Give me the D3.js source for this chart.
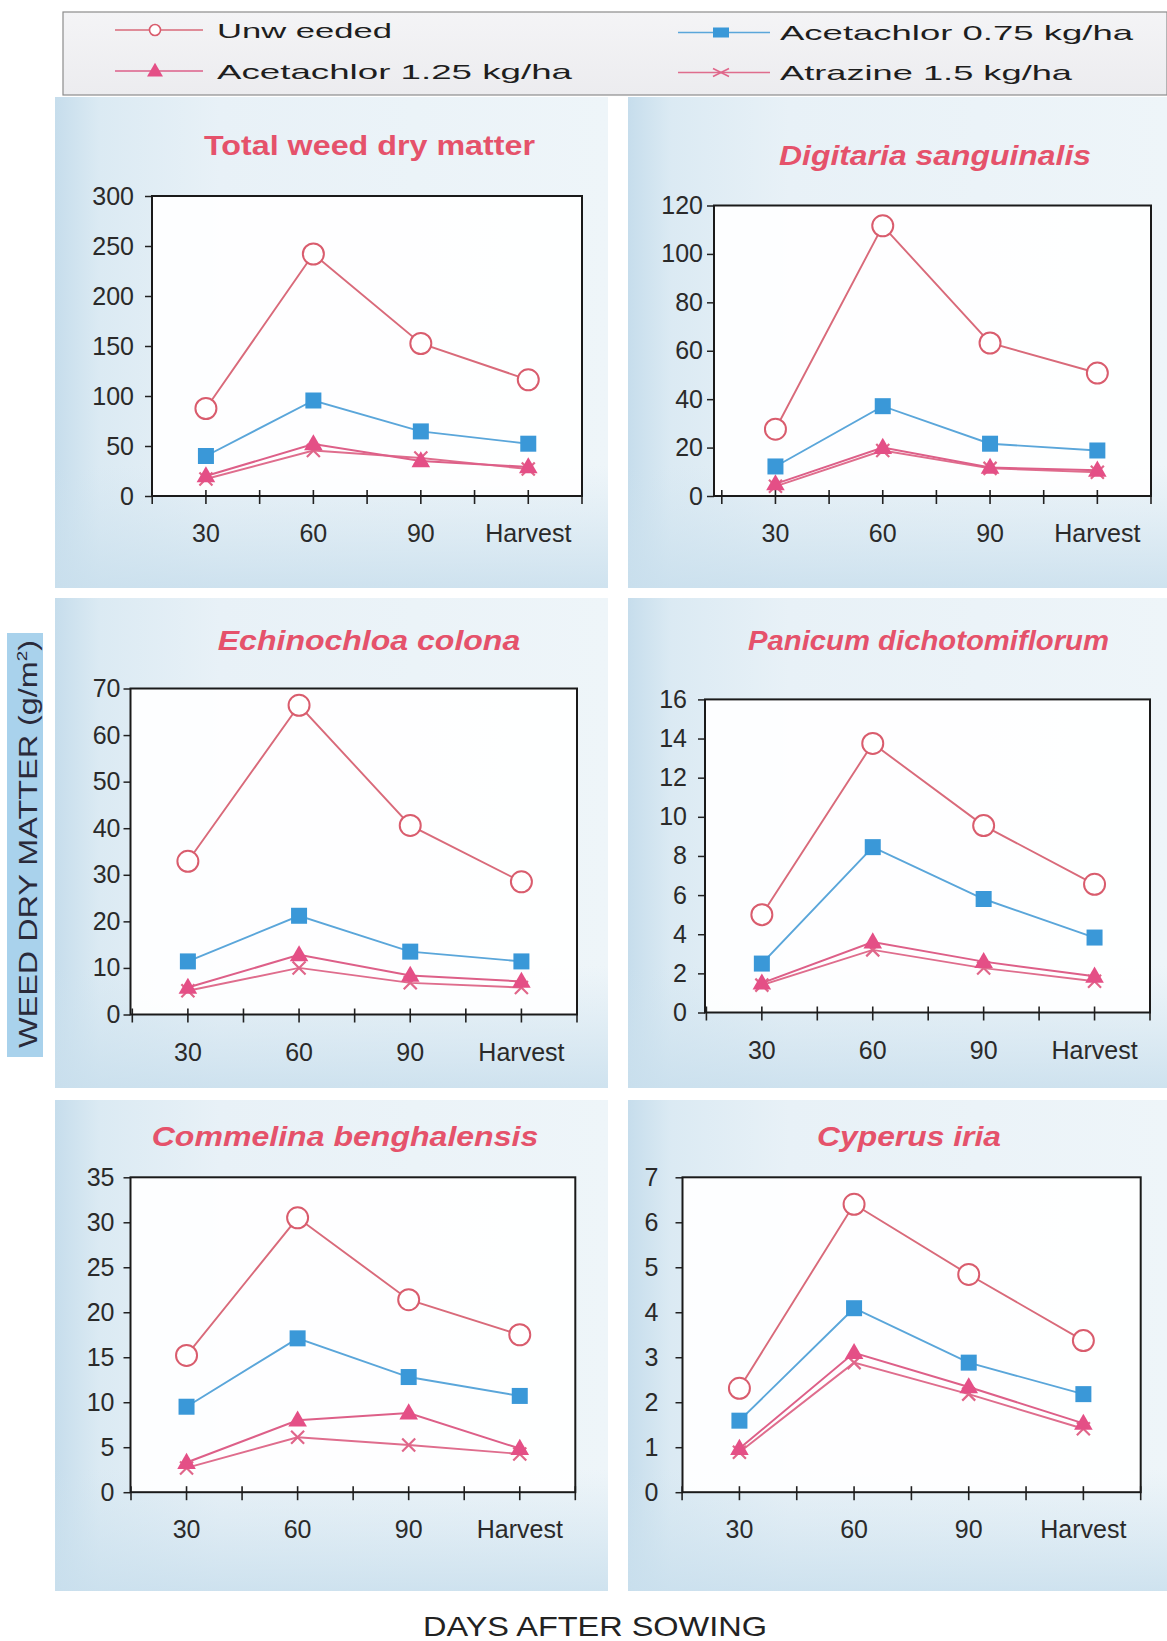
<!DOCTYPE html>
<html>
<head>
<meta charset="utf-8">
<script src="https://cdn.jsdelivr.net/npm/d3@7"></script>
<style>
  html, body { margin: 0; padding: 0; background: #ffffff; }
  svg { display: block; }
  text { font-family: "Liberation Sans", Arial, sans-serif; }
</style>
</head>
<body>
<svg id="chart" width="1167" height="1641"></svg>
<script>
// ---------------- data ----------------
const categories = ["30", "60", "90", "Harvest"];
const seriesNames = ["Unw eeded", "Acetachlor 0.75 kg/ha", "Acetachlor 1.25 kg/ha", "Atrazine 1.5 kg/ha"];
const panelTitles = ["Total weed dry matter", "Digitaria sanguinalis", "Echinochloa colona",
                     "Panicum dichotomiflorum", "Commelina benghalensis", "Cyperus iria"];
const yMax  = [300, 120, 70, 16, 35, 7];
const yStep = [50, 20, 10, 2, 5, 1];
const unweeded = [[87.5, 242, 152.5, 116.2], [27.6, 111.6, 63.2, 50.8], [32.9, 66.4, 40.6, 28.5],
                  [5.0, 13.75, 9.55, 6.55], [15.2, 30.5, 21.4, 17.5], [2.31, 6.4, 4.84, 3.37]];
const acet075  = [[40, 95.5, 64.6, 52.3], [12.2, 37.1, 21.6, 18.8], [11.4, 21.2, 13.5, 11.4],
                  [2.5, 8.45, 5.8, 3.83], [9.5, 17.1, 12.8, 10.7], [1.59, 4.09, 2.88, 2.18]];
const acet125  = [[20, 52, 35, 29], [5, 20, 11.8, 10.6], [5.8, 12.8, 8.4, 7.1],
                  [1.5, 3.6, 2.6, 1.85], [3.3, 8.0, 8.8, 4.85], [0.97, 3.1, 2.34, 1.53]];
const atrazine = [[17, 45.5, 38, 27], [4, 18.8, 11.4, 9.8], [5.1, 10, 6.8, 5.8],
                  [1.4, 3.2, 2.27, 1.6], [2.7, 6.1, 5.25, 4.25], [0.89, 2.88, 2.18, 1.41]];
const yAxisTitle = "WEED DRY MATTER (g/m";
const xAxisTitle = "DAYS AFTER SOWING";

// ---------------- layout ----------------
const layout = [
  {bx0:152,   bx1:582,   band0:152.2, by0:196,   by1:496,   tx:369.5, ty:155,   tw:331,   it:false, lab:18, bg:[55,97,608,588]},
  {bx0:714,   bx1:1151,  band0:721.8, by0:205.5, by1:496,   tx:935,   ty:164.5, tw:312,   it:true,  lab:11, bg:[628,97,1167,588]},
  {bx0:130.5, bx1:577,   band0:132.3, by0:688.5, by1:1014.5,tx:369,   ty:649.6, tw:302.5, it:true,  lab:10, bg:[55,598,608,1088]},
  {bx0:705,   bx1:1150,  band0:706.4, by0:699.4, by1:1012.5,tx:928.5, ty:649.6, tw:361,   it:true,  lab:18, bg:[628,598,1167,1088]},
  {bx0:130.5, bx1:575.3, band0:131,   by0:1177.3,by1:1492.2,tx:345,   ty:1146,  tw:386.6, it:true,  lab:16, bg:[55,1100,608,1591]},
  {bx0:682.5, bx1:1140.7,band0:682.1, by0:1177.3,by1:1492.2,tx:909,   ty:1146,  tw:184,   it:true,  lab:24, bg:[628,1100,1167,1591]}
];

const styles = [
  {line:"#d96a7a", lw:1.9, marker:"circle",   fill:"#ffffff", stroke:"#d95c6d"},
  {line:"#5aa6da", lw:1.9, marker:"square",   fill:"#3a98d8", stroke:"none"},
  {line:"#dd5f88", lw:2.0, marker:"triangle", fill:"#e44f86", stroke:"none"},
  {line:"#df6d8d", lw:1.9, marker:"cross",    fill:"none",    stroke:"#e0668a"}
];

const svg = d3.select("#chart");
const defs = svg.append("defs");

const hg = defs.append("linearGradient").attr("id", "panelH")
  .attr("x1", "0").attr("y1", "0").attr("x2", "1").attr("y2", "0");
hg.append("stop").attr("offset", "0%").attr("stop-color", "#c6ddec");
hg.append("stop").attr("offset", "8%").attr("stop-color", "#dbeaf3");
hg.append("stop").attr("offset", "30%").attr("stop-color", "#e8f1f7");
hg.append("stop").attr("offset", "100%").attr("stop-color", "#eef5f9");

const vg = defs.append("linearGradient").attr("id", "panelV")
  .attr("x1", "0").attr("y1", "0").attr("x2", "0").attr("y2", "1");
vg.append("stop").attr("offset", "0%").attr("stop-color", "#cfe3ef").attr("stop-opacity", 0);
vg.append("stop").attr("offset", "75%").attr("stop-color", "#cfe3ef").attr("stop-opacity", 0);
vg.append("stop").attr("offset", "100%").attr("stop-color", "#c9dfed").attr("stop-opacity", 0.85);

const lg = defs.append("linearGradient").attr("id", "legendBg")
  .attr("x1", "0").attr("y1", "0").attr("x2", "0").attr("y2", "1");
lg.append("stop").attr("offset", "0%").attr("stop-color", "#f4f4f6");
lg.append("stop").attr("offset", "100%").attr("stop-color", "#ececef");

// ---------------- marker helper ----------------
function drawMarker(g, kind, st, x, y) {
  if (kind === "circle") {
    g.append("circle").attr("cx", x).attr("cy", y).attr("r", 10.5)
      .attr("fill", st.fill).attr("stroke", st.stroke).attr("stroke-width", 2);
  } else if (kind === "square") {
    g.append("rect").attr("x", x - 8).attr("y", y - 8).attr("width", 16).attr("height", 16)
      .attr("fill", st.fill);
  } else if (kind === "triangle") {
    g.append("path").attr("d", d3.symbol(d3.symbolTriangle, 150)())
      .attr("transform", `translate(${x},${y + 1})`).attr("fill", st.fill);
  } else {
    g.append("path").attr("d", `M${x-6.5},${y-6.5}L${x+6.5},${y+6.5}M${x-6.5},${y+6.5}L${x+6.5},${y-6.5}`)
      .attr("stroke", st.stroke).attr("stroke-width", 2.2).attr("fill", "none");
  }
}

// ---------------- panels ----------------
const allSeries = [unweeded, acet075, acet125, atrazine];

layout.forEach((L, p) => {
  const g = svg.append("g");
  const [px0, py0, px1, py1] = L.bg;
  g.append("rect").attr("x", px0).attr("y", py0).attr("width", px1 - px0).attr("height", py1 - py0)
    .attr("fill", "url(#panelH)");
  g.append("rect").attr("x", px0).attr("y", py0).attr("width", px1 - px0).attr("height", py1 - py0)
    .attr("fill", "url(#panelV)");

  const x = d3.scaleBand().domain(categories).range([L.band0, L.bx1]).padding(0);
  const y = d3.scaleLinear().domain([0, yMax[p]]).range([L.by1, L.by0]);

  // plot area
  g.append("rect").attr("x", L.bx0).attr("y", L.by0).attr("width", L.bx1 - L.bx0)
    .attr("height", L.by1 - L.by0).attr("fill", "#ffffff").attr("fill-opacity", 0.92);

  // title
  g.append("text").attr("x", L.tx).attr("y", L.ty).attr("text-anchor", "middle")
    .attr("font-size", 27).attr("font-weight", "bold").attr("font-style", L.it ? "italic" : "normal")
    .attr("fill", "#e5526b").attr("textLength", L.tw).attr("lengthAdjust", "spacingAndGlyphs")
    .text(panelTitles[p]);

  // y axis
  const ticks = d3.range(0, yMax[p] + yStep[p] / 2, yStep[p]);
  const ya = g.append("g").attr("transform", `translate(${L.bx0},0)`)
    .call(d3.axisLeft(y).tickValues(ticks).tickSize(7).tickPadding(L.lab - 7).tickFormat(d3.format("d")));
  ya.select(".domain").remove();
  ya.selectAll(".tick line").attr("stroke", "#222").attr("stroke-width", 1.5);
  ya.selectAll(".tick text").attr("font-size", 25).attr("fill", "#2a2a2a")
    .style("font-family", '"Liberation Sans", Arial, sans-serif');

  // x axis: labels at band centres, ticks at centres and band boundaries
  const xa = g.append("g").attr("transform", `translate(0,${L.by1})`)
    .call(d3.axisBottom(x).tickSize(0).tickPadding(39));
  xa.select(".domain").remove();
  xa.selectAll(".tick text").attr("font-size", 25).attr("fill", "#2a2a2a").attr("dy", "0.32em")
    .attr("y", 38).style("font-family", '"Liberation Sans", Arial, sans-serif');
  const tickXs = [];
  categories.forEach(c => { tickXs.push(x(c)); tickXs.push(x(c) + x.bandwidth() / 2); });
  tickXs.push(x.range()[1]);
  g.selectAll(null).data(tickXs).join("line")
    .attr("x1", d => d).attr("x2", d => d)
    .attr("y1", L.by1 - 6).attr("y2", L.by1 + 8)
    .attr("stroke", "#222").attr("stroke-width", 1.6);

  // frame
  g.append("rect").attr("x", L.bx0).attr("y", L.by0).attr("width", L.bx1 - L.bx0)
    .attr("height", L.by1 - L.by0).attr("fill", "none").attr("stroke", "#1a1a1a").attr("stroke-width", 2);

  // series
  const line = d3.line().x((d, i) => x(categories[i]) + x.bandwidth() / 2).y(d => y(d));
  [3, 2, 1, 0].forEach(s => {
    const st = styles[s];
    const vals = allSeries[s][p];
    g.append("path").attr("d", line(vals)).attr("fill", "none")
      .attr("stroke", st.line).attr("stroke-width", st.lw);
    vals.forEach((v, i) => drawMarker(g, st.marker, st, x(categories[i]) + x.bandwidth() / 2, y(v)));
  });
});

// ---------------- legend ----------------
const leg = svg.append("g");
leg.append("rect").attr("x", 63).attr("y", 12).attr("width", 1104).attr("height", 83)
  .attr("fill", "url(#legendBg)").attr("stroke", "#8c8c8c").attr("stroke-width", 1.2);
const legPos = [
  {lx0:115, lx1:203, mx:155, tx:217, y:30,   tw:175},
  {lx0:678, lx1:770, mx:721, tx:780, y:32.5, tw:353},
  {lx0:115, lx1:203, mx:155, tx:217, y:71,   tw:355},
  {lx0:678, lx1:770, mx:721, tx:780, y:72.5, tw:292}
];
seriesNames.forEach((name, s) => {
  const P = legPos[s], st = styles[s];
  leg.append("line").attr("x1", P.lx0).attr("x2", P.lx1).attr("y1", P.y).attr("y2", P.y)
    .attr("stroke", st.line).attr("stroke-width", 1.6);
  if (st.marker === "circle") {
    leg.append("circle").attr("cx", P.mx).attr("cy", P.y).attr("r", 5.5)
      .attr("fill", "#fff").attr("stroke", st.stroke).attr("stroke-width", 1.6);
  } else if (st.marker === "square") {
    leg.append("rect").attr("x", P.mx - 8).attr("y", P.y - 5).attr("width", 16).attr("height", 10).attr("fill", st.fill);
  } else if (st.marker === "triangle") {
    leg.append("path").attr("d", d3.symbol(d3.symbolTriangle, 110)()).attr("transform", `translate(${P.mx},${P.y + 1})`).attr("fill", st.fill);
  } else {
    leg.append("path").attr("d", `M${P.mx-8},${P.y-4}L${P.mx+8},${P.y+4}M${P.mx-8},${P.y+4}L${P.mx+8},${P.y-4}`)
      .attr("stroke", st.stroke).attr("stroke-width", 1.6);
  }
  leg.append("text").attr("x", P.tx).attr("y", P.y).attr("dy", "0.36em")
    .attr("font-size", 21).attr("fill", "#1e1e1e")
    .attr("textLength", P.tw).attr("lengthAdjust", "spacingAndGlyphs").text(name);
});

// ---------------- axis titles ----------------
svg.append("rect").attr("x", 7).attr("y", 633).attr("width", 36).attr("height", 424).attr("fill", "#a9d2ec");
const yt = svg.append("text").attr("transform", "translate(37,844) rotate(-90)")
  .attr("text-anchor", "middle").attr("font-size", 26).attr("fill", "#2a2a3a")
  .attr("textLength", 408).attr("lengthAdjust", "spacingAndGlyphs");
yt.append("tspan").text(yAxisTitle);
yt.append("tspan").attr("font-size", 15).attr("dy", -10).text("2");
yt.append("tspan").attr("dy", 10).text(")");

svg.append("text").attr("x", 595).attr("y", 1636).attr("text-anchor", "middle")
  .attr("font-size", 28).attr("fill", "#222")
  .attr("textLength", 344).attr("lengthAdjust", "spacingAndGlyphs").text(xAxisTitle);
</script>
</body>
</html>
